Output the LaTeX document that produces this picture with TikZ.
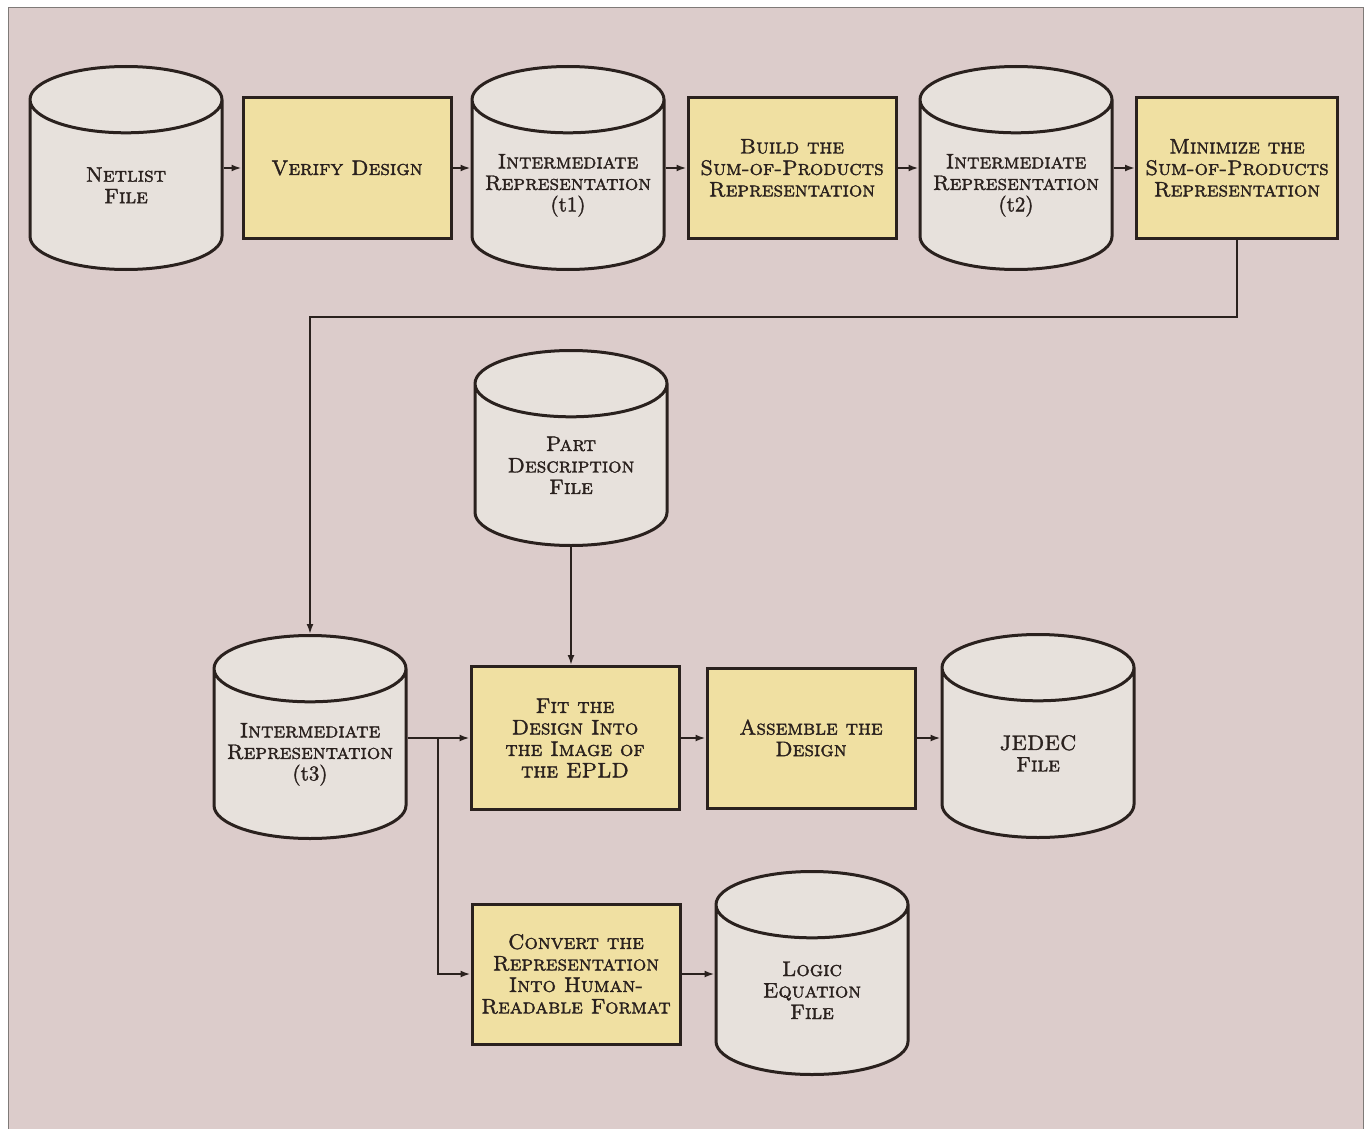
\documentclass[tikz,border=0pt]{standalone}
\usepackage{fontspec}
\usepackage{tikz}
\usetikzlibrary{shapes.geometric, positioning, calc, arrows.meta}
\newfontfamily\capsfont{lmromancaps10-regular.otf}[FakeBold=1.6]
\newfontfamily\tagfont{lmroman10-regular.otf}[FakeBold=1.6]
\definecolor{paper}{RGB}{220,204,203}
\definecolor{filefill}{RGB}{231,225,220}
\definecolor{stepfill}{RGB}{240,224,162}
\definecolor{ink}{RGB}{42,33,30}
\tikzset{
->, % every connector is directed
>={Latex[length=10pt,width=7pt]}, % small solid arrow heads
every node/.style={font=\capsfont\fontsize{21}{21.5}\selectfont, text=ink, align=center},
store/.style={cylinder, shape border rotate=90, aspect=0.39, text width=170pt, anchor=shape center, draw=ink, line width=3pt, fill=filefill, minimum width=192pt, minimum height=203pt, inner sep=0pt}, % data files
task/.style={rectangle, draw=ink, line width=3pt, fill=stepfill, minimum width=208pt, minimum height=140pt}, % processing steps
flow/.style={draw=ink, line width=2pt}, % connectors
}
\begin{document}
\begin{tikzpicture}[x=1pt, y=-1pt]
\useasboundingbox (0,0) rectangle (1368,1129);
\fill[paper] (8,8) rectangle (1363,1129);
\draw[ink!60, line width=1pt, -] (8,1129) -- (8,8) -- (1363,8) -- (1363,1129);

% first pass: netlist to minimized sum of products
\node[store] (netlist) at (126,168) {Netlist\\File};
\node[task] (verify) at ($(netlist.shape center)+(221,0)$) {Verify Design};
\node[store] (ir1) at ($(verify)+(221,0)$) {Intermediate\\Representation\\{\tagfont(t1)}};
\node[task] (build) at ($(ir1.shape center)+(224,0)$) {Build the\\Sum-of-Products\\Representation};
\node[store] (ir2) at ($(build)+(224,0)$) {Intermediate\\Representation\\{\tagfont(t2)}};
\node[task, minimum width=201pt] (minimize) at ($(ir2.shape center)+(221,0)$) {Minimize the\\Sum-of-Products\\Representation};

% second pass: fitting and output files
\node[store] (ir3) at (310,737) {Intermediate\\Representation\\{\tagfont(t3)}};
\node[task, minimum height=143pt] (fit) at ($(ir3.shape center)+(265,1)$) {Fit the\\Design Into\\the Image of\\the EPLD};
\node[task] (assemble) at ($(fit)+(236,0)$) {Assemble the\\Design};
\node[store] (jedec) at ($(assemble)+(227,-2)$) {JEDEC\\File};
\node[store, minimum height=195pt] (part) at ($(fit)+(-4,-290)$) {Part\\Description\\File};
\node[task] (convert) at ($(fit)+(1,236)$) {Convert the\\Representation\\Into Human-\\Readable Format};
\node[store] (logic) at ($(convert)+(236,-1)$) {Logic\\Equation\\File};
\coordinate (split) at ($(fit.west -| ir3.east)+(30,0)$);

\draw[flow] (verify.west -| netlist.east) -- (verify.west);
\draw[flow] (verify.east) -- (verify.east -| ir1.west);
\draw[flow] (build.west -| ir1.east) -- (build.west);
\draw[flow] (build.east) -- (build.east -| ir2.west);
\draw[flow] (minimize.west -| ir2.east) -- (minimize.west);
\draw[flow] (minimize.south) -- ++(0,77) -| (ir3.top);
\draw[flow] (part.bottom) -- (part.bottom |- fit.north);
\draw[flow] (fit.west -| ir3.east) -- (fit.west);
\draw[flow] (split) |- (convert.west);
\draw[flow] (fit.east) -- (assemble.west);
\draw[flow] (assemble.east) -- (assemble.east -| jedec.west);
\draw[flow] (convert.east) -- (convert.east -| logic.west);
\end{tikzpicture}
\end{document}
